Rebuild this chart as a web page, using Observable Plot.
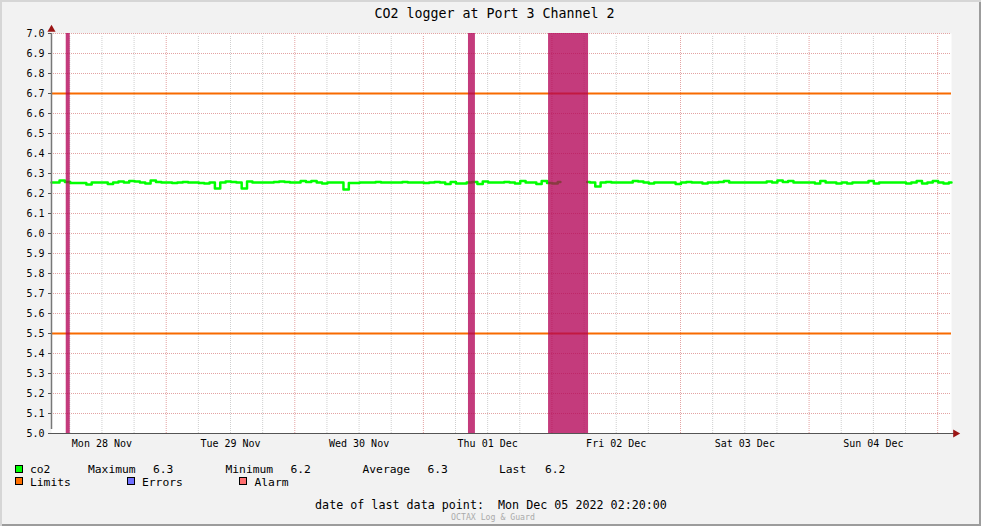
<!DOCTYPE html>
<html><head><meta charset="utf-8">
<script src="https://cdn.jsdelivr.net/npm/d3@7"></script>
<script src="https://cdn.jsdelivr.net/npm/@observablehq/plot@0.6"></script>
<style>
body{margin:0;background:#fff;}
#chart{position:relative;width:981px;height:526px;background:#F2F2F2;overflow:hidden;font-family:"DejaVu Sans Mono",monospace;color:#000;}
#chart svg{position:absolute;left:0;top:0;}
.t{position:absolute;white-space:pre;line-height:1;}
.sq{position:absolute;width:6px;height:6px;border:1px solid #000;}
#frame{position:absolute;left:0;top:0;width:981px;height:526px;box-shadow:inset 2px 2px 0 #D6D6D6, inset -2px -2px 0 #9C9C9C;pointer-events:none;}
</style></head><body><div id="chart"></div>
<script>
// ---- data ----
const titleText = "CO2 logger at Port 3 Channel 2";
const windowStart = "2022-11-28T02:35:00Z";
const windowEnd = "2022-12-05T02:35:00Z";
const co2Start = "2022-11-28T02:35:00Z"; // hourly samples
const co2Values = [
6.255,6.255,6.265,6.258,6.252,6.252,6.252,6.245,6.255,6.255,
6.255,6.248,6.255,6.26,6.255,6.262,6.26,6.255,6.25,6.265,
6.258,6.255,6.255,6.252,6.255,6.258,6.255,6.255,6.252,6.25,
6.255,6.225,6.255,6.26,6.258,6.255,6.225,6.26,6.255,6.255,
6.255,6.255,6.258,6.26,6.258,6.255,6.255,6.262,6.258,6.262,
6.255,6.25,6.255,6.255,6.255,6.22,6.252,6.252,6.255,6.255,
6.255,6.258,6.255,6.255,6.255,6.255,6.258,6.255,6.255,6.255,
6.252,6.255,6.258,6.255,6.248,6.258,6.25,6.25,6.255,6.258,
6.248,6.26,6.255,6.255,6.255,6.258,6.255,6.25,6.262,6.255,
6.255,6.248,6.262,6.252,6.25,6.258,null,null,null,null,
6.258,6.255,6.235,6.255,6.258,6.255,6.255,6.255,6.255,6.262,
6.26,6.255,6.25,6.255,6.255,6.255,6.255,6.248,6.255,6.258,
6.255,6.255,6.25,6.255,6.255,6.258,6.262,6.255,6.255,6.255,
6.255,6.255,6.255,6.255,6.26,6.255,6.265,6.258,6.262,6.255,
6.255,6.255,6.255,6.25,6.262,6.255,6.255,6.25,6.255,6.25,
6.255,6.255,6.255,6.262,6.25,6.255,6.255,6.255,6.255,6.255,
6.25,6.255,6.262,6.25,6.255,6.262,6.255,6.25,6.255
];
const limitValues = [5.5, 6.7];
const alarmStarts = ["2022-11-28T05:20:00Z", "2022-12-01T08:25:00Z", "2022-12-01T23:22:00Z"];
const alarmEnds   = ["2022-11-28T06:05:00Z", "2022-12-01T09:43:00Z", "2022-12-02T06:50:00Z"];
const yTicks = [5.0,5.1,5.2,5.3,5.4,5.5,5.6,5.7,5.8,5.9,6.0,6.1,6.2,6.3,6.4,6.5,6.6,6.7,6.8,6.9,7.0];
const dayTickTimes = ["2022-11-28T12:00:00Z","2022-11-29T12:00:00Z","2022-11-30T12:00:00Z","2022-12-01T12:00:00Z","2022-12-02T12:00:00Z","2022-12-03T12:00:00Z","2022-12-04T12:00:00Z"];
const dayLabels = ["Mon 28 Nov","Tue 29 Nov","Wed 30 Nov","Thu 01 Dec","Fri 02 Dec","Sat 03 Dec","Sun 04 Dec"];
const statNames = ["Maximum","Minimum","Average","Last"];
const statValues = ["6.3","6.2","6.3","6.2"];
const legendNames = ["co2","Limits","Errors","Alarm"];
const legendColors = ["#00FF00","#FF7000","#7070FF","#FF7070"];
const lastPointText = "date of last data point:  Mon Dec 05 2022 02:20:00";
const footerText = "OCTAX Log & Guard";

// ---- build ----
const start = new Date(windowStart), end = new Date(windowEnd);
const HOUR = 3600e3;
const co2 = co2Values.map((v, i) => ({t: new Date(+new Date(co2Start) + i * HOUR), v}));
const alarms = alarmStarts.map((s, i) => ({s: new Date(s), e: new Date(alarmEnds[i])}));
const dayTicks = dayTickTimes.map(d => new Date(d));
const majorGrid = d3.utcDay.range(start, end);
const minorGrid = d3.utcHour.every(6).range(start, end).filter(d => d.getUTCHours() !== 0);

const major = "#E3A3A3", minor = "#CFCFCF";
const plot = Plot.plot({
  width: 981, height: 526,
  marginTop: 33, marginRight: 30, marginBottom: 93, marginLeft: 51,
  style: {background: "transparent", fontFamily: "DejaVu Sans Mono", fontSize: "10px", color: "#000", overflow: "visible"},
  x: {type: "utc", domain: [start, end], axis: null},
  y: {domain: [5, 7], axis: null},
  marks: [
    Plot.frame({fill: "white", stroke: "none"}),
    Plot.ruleX(minorGrid, {y1: 5, y2: 7, insetBottom: -3, stroke: minor, strokeDasharray: "1,1"}),
    Plot.ruleX(majorGrid, {y1: 5, y2: 7, insetBottom: -3, stroke: major, strokeDasharray: "1,1"}),
    Plot.ruleY(yTicks.slice(1), {x1: start, x2: end, stroke: major, strokeDasharray: "1,1"}),
    Plot.ruleY(limitValues, {x1: start, x2: end, stroke: "#F86A00", strokeWidth: 2}),
    Plot.line(co2, {x: "t", y: "v", curve: "step", stroke: "#00FF00", strokeWidth: 2.5}),
    Plot.rect(alarms, {x1: "s", x2: "e", y1: 5, y2: 7, fill: "rgb(178,0,84)", fillOpacity: 0.77}),
    Plot.ruleX([start], {y1: 5, y2: 7, insetTop: -4, stroke: "#777", strokeWidth: 1.5}),
    Plot.ruleY([5], {x1: start, x2: end, insetRight: -3, stroke: "#555", strokeWidth: 1}),
    Plot.dot([start], {x: d => d, y: () => 7, dy: -4, symbol: "triangle", r: 3, fill: "#9B1515", stroke: "none"}),
    Plot.dot([end], {x: d => d, y: () => 5, dx: 4, symbol: "triangle", rotate: 90, r: 3, fill: "#9B1515", stroke: "none"}),
    Plot.axisY(yTicks, {tickSize: 3, tickPadding: 4, tickFormat: d => d.toFixed(1), stroke: "#555", label: null, fontSize: 10}),
    Plot.axisX(dayTicks, {tickSize: 0, tickPadding: 6, tickFormat: d => dayLabels[dayTicks.findIndex(t => +t === +d)], label: null, fontSize: 10})
  ]
});
const chart = document.getElementById("chart");
chart.appendChild(plot);

function addText(txt, left, top, size, extra) {
  const el = document.createElement("div");
  el.className = "t";
  el.textContent = txt;
  el.style.left = left + "px"; el.style.top = top + "px"; el.style.fontSize = size + "px";
  if (extra) Object.assign(el.style, extra);
  chart.appendChild(el);
  return el;
}
function addSquare(color, left, top) {
  const el = document.createElement("div");
  el.className = "sq"; el.style.left = left + "px"; el.style.top = top + "px"; el.style.background = color;
  chart.appendChild(el);
}
// title
addText(titleText, 0, 7, 13.3, {width: "989px", textAlign: "center"});
// legend row 1
addSquare(legendColors[0], 15, 465);
addText(legendNames[0], 30, 464, 11.3);
const statX = [88, 225.5, 362.5, 499];
const statValX = [153, 290.5, 427.5, 545];
statNames.forEach((n, i) => { addText(n, statX[i], 464, 11.3); addText(statValues[i], statValX[i], 464, 11.3); });
// legend row 2
const row2Sq = [15, 127, 239], row2Tx = [30, 142, 254.5];
[1, 2, 3].forEach((k, j) => { addSquare(legendColors[k], row2Sq[j], 477); addText(legendNames[k], row2Tx[j], 477.3, 11.3); });
// footer
addText(lastPointText, 0, 499.5, 11.7, {width: "982px", textAlign: "center"});
addText(footerText, 0, 513, 8.2, {width: "986px", textAlign: "center", color: "#AAAAAA"});
const fr = document.createElement("div"); fr.id = "frame"; chart.appendChild(fr);
</script></body></html>
